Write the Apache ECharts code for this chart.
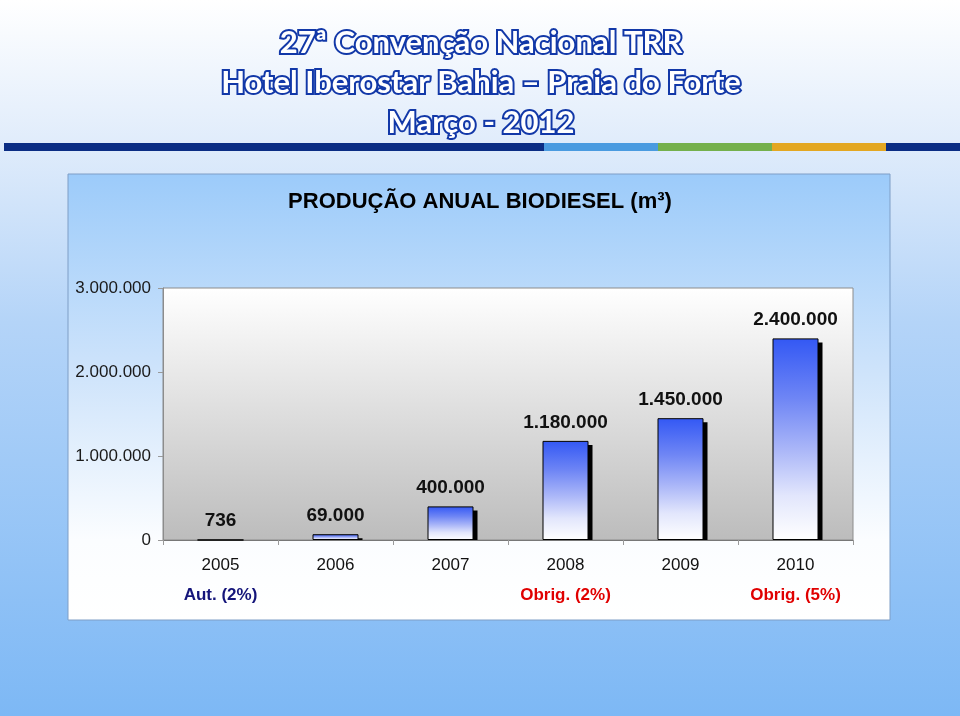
<!DOCTYPE html>
<html>
<head>
<meta charset="utf-8">
<style>html,body{margin:0;padding:0;}#c{width:960px;height:716px;}</style>
<script src="https://cdn.jsdelivr.net/npm/echarts@6/dist/echarts.min.js"></script>
</head>
<body>
<div id="c"></div>
<script>
// ---- data ----
const years = ['2005', '2006', '2007', '2008', '2009', '2010'];
const production = [736, 69000, 400000, 1180000, 1450000, 2400000];
const mandates = ['Aut. (2%)', '', '', 'Obrig. (2%)', '', 'Obrig. (5%)'];
const mandateKinds = ['aut', '', '', 'obr', '', 'obr'];
const yMin = 0, yMax = 3000000, yStep = 1000000;
const chartTitle = 'PRODUÇÃO ANUAL BIODIESEL (m³)';
const headerLines = ['27ª Convenção Nacional TRR', 'Hotel Iberostar Bahia – Praia do Forte', 'Março - 2012'];

function fmt(v) { return String(v).replace(/\B(?=(\d{3})+(?!\d))/g, '.'); }

const chart = echarts.init(document.getElementById('c'));

const headerFont = 'Lato, "Open Sans", sans-serif';
const headerY = [43, 83, 123];
const headerText = headerLines.map((t, i) => ({
  type: 'text', z: 10,
  x: 481, y: headerY[i],
  style: {
    text: t, fill: '#ffffff', stroke: '#1238a8', lineWidth: 4,
    font: 'bold 31px ' + headerFont,
    textAlign: 'center', textVerticalAlign: 'middle',
    shadowColor: 'rgba(60,110,230,0.6)', shadowBlur: 4
  }
}));

const stripes = [
  [4, 544, '#0b2d84'], [544, 658, '#4a9be0'], [658, 772, '#74b04c'],
  [772, 886, '#e3a722'], [886, 960, '#0b2d84']
].map(s => ({
  type: 'rect', z: 5,
  shape: { x: s[0], y: 143, width: s[1] - s[0], height: 8 },
  style: { fill: s[2] }
}));

const option = {
  animation: false,
  title: {
    text: chartTitle, left: 'center', top: 191, padding: 0,
    textStyle: { fontFamily: 'Liberation Sans, Arial, sans-serif', fontSize: 22, fontWeight: 'bold', color: '#000' }
  },
  graphic: { elements: [
    { type: 'rect', z: -20, shape: { x: 0, y: 0, width: 960, height: 716 },
      style: { fill: new echarts.graphic.LinearGradient(0, 0, 0, 1, [
        { offset: 0, color: '#ffffff' }, { offset: 0.2, color: '#e0ecfb' },
        { offset: 0.45, color: '#b4d4f8' }, { offset: 1, color: '#7db8f5' }]) } },
    { type: 'rect', z: -10, shape: { x: 68, y: 174, width: 822, height: 446 },
      style: { fill: new echarts.graphic.LinearGradient(0, 0, 0, 1, [
        { offset: 0, color: '#9ccbfa' }, { offset: 0.45, color: '#cfe4fb' },
        { offset: 0.82, color: '#fbfdff' }, { offset: 1, color: '#ffffff' }]),
        stroke: '#7f9ec6', lineWidth: 1 } },
    ...stripes,
    ...headerText
  ] },
  grid: {
    left: 163, right: 107, top: 288, bottom: 176, show: true,
    borderColor: '#8c8c8c', borderWidth: 1,
    backgroundColor: new echarts.graphic.LinearGradient(0, 0, 0, 1, [
      { offset: 0, color: '#ffffff' }, { offset: 1, color: '#bcbcbc' }])
  },
  xAxis: {
    type: 'category', data: years,
    axisLine: { lineStyle: { color: '#777', width: 1 } },
    axisTick: { show: true, length: 5, lineStyle: { color: '#999' } },
    axisLabel: {
      margin: 10, interval: 0,
      formatter: (v, i) => mandates[i] ? '{y|' + v + '}\n{' + mandateKinds[i] + '|' + mandates[i] + '}' : '{y|' + v + '}',
      rich: {
        y: { fontFamily: 'Liberation Sans, Arial, sans-serif', fontSize: 17, color: '#111', lineHeight: 30 },
        aut: { fontFamily: 'Liberation Sans, Arial, sans-serif', fontSize: 17, fontWeight: 'bold', color: '#14147a', lineHeight: 30 },
        obr: { fontFamily: 'Liberation Sans, Arial, sans-serif', fontSize: 17, fontWeight: 'bold', color: '#e00000', lineHeight: 30 }
      }
    }
  },
  yAxis: {
    type: 'value', min: yMin, max: yMax, interval: yStep,
    splitLine: { show: false },
    axisLine: { show: true, lineStyle: { color: '#8c8c8c' } },
    axisTick: { show: true, length: 5, lineStyle: { color: '#999' } },
    axisLabel: { formatter: v => fmt(v), fontFamily: 'Liberation Sans, Arial, sans-serif', fontSize: 17, color: '#1a1a1a', margin: 12 }
  },
  series: [
    {
      type: 'custom', z: 1, silent: true,
      data: production.map((v, i) => [i, v]),
      encode: { x: 0, y: 1 },
      renderItem: function (params, api) {
        const top = api.coord([api.value(0), api.value(1)]);
        const base = api.coord([api.value(0), 0]);
        const w = api.size([1, 0])[0] * 0.4;
        const off = 4;
        const h = base[1] - top[1] - off;
        if (h <= 0) return null;
        return { type: 'rect', shape: { x: top[0] - w / 2 + off, y: top[1] + off, width: w, height: h }, style: { fill: '#000' } };
      }
    },
    {
      type: 'bar', z: 2, data: production, barWidth: '40%',
      itemStyle: {
        color: new echarts.graphic.LinearGradient(0, 0, 0, 1, [
          { offset: 0, color: '#3358f4' }, { offset: 0.3, color: '#6f86f5' },
          { offset: 0.55, color: '#aab6f8' }, { offset: 0.78, color: '#e2e6fc' },
          { offset: 1, color: '#ffffff' }]),
        borderColor: '#000', borderWidth: 1
      },
      label: {
        show: true, position: 'top', distance: 9,
        formatter: p => fmt(p.value),
        fontFamily: 'Liberation Sans, Arial, sans-serif', fontSize: 19, fontWeight: 'bold', color: '#111'
      }
    }
  ]
};
chart.setOption(option);
</script>
</body>
</html>
